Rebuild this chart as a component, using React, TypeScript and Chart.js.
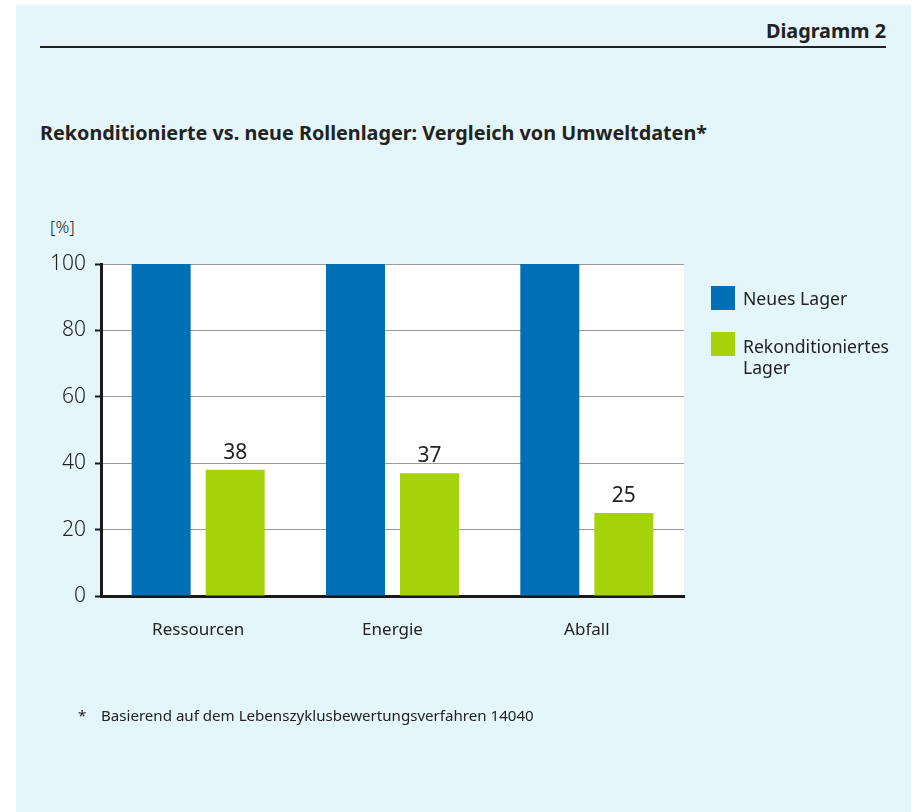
import React, { useEffect, useRef } from 'react';
import { Chart, registerables } from 'chart.js';

Chart.register(...registerables);

const categories = ['Ressourcen', 'Energie', 'Abfall'];
const neuesLager = [100, 100, 100];
const rekonditioniertesLager = [38, 37, 25];
const seriesLabels = ['Neues Lager', 'Rekonditioniertes Lager'];
const yMin = 0;
const yMax = 100;
const yStep = 20;

const FONT = '"Noto Sans", "DejaVu Sans", sans-serif';
const TEXT = '#222222';
const BLUE = '#006fb5';
const GREEN = '#a6d20b';
const BG = '#e4f6f9';

const plotBackground = {
  id: 'plotBackground',
  beforeDraw(chart: any) {
    const { ctx, chartArea } = chart;
    ctx.save();
    ctx.fillStyle = '#ffffff';
    ctx.fillRect(chartArea.left, chartArea.top, chartArea.right - chartArea.left, chartArea.bottom - chartArea.top);
    ctx.restore();
  },
};

const valueLabels = {
  id: 'valueLabels',
  afterDatasetsDraw(chart: any) {
    const { ctx } = chart;
    const meta = chart.getDatasetMeta(1);
    const data = chart.data.datasets[1].data;
    ctx.save();
    ctx.font = `21px ${FONT}`;
    ctx.fillStyle = TEXT;
    ctx.textAlign = 'center';
    ctx.textBaseline = 'alphabetic';
    meta.data.forEach((bar: any, i: number) => {
      ctx.fillText(String(data[i]), bar.x, bar.y - 11);
    });
    ctx.restore();
  },
};

export default function App() {
  const canvasRef = useRef<HTMLCanvasElement | null>(null);

  useEffect(() => {
    if (!canvasRef.current) return;
    const chart = new Chart(canvasRef.current, {
      type: 'bar',
      data: {
        labels: categories,
        datasets: [
          { label: seriesLabels[0], data: neuesLager, backgroundColor: BLUE, borderWidth: 0 },
          { label: seriesLabels[1], data: rekonditioniertesLager, backgroundColor: GREEN, borderWidth: 0 },
        ],
      },
      options: {
        animation: false,
        responsive: false,
        maintainAspectRatio: false,
        devicePixelRatio: 1,
        layout: { padding: { left: 0, right: 237, top: 264, bottom: 156 } },
        datasets: { bar: { categoryPercentage: 0.762, barPercentage: 0.797 } },
        plugins: { legend: { display: false }, tooltip: { enabled: false } },
        scales: {
          x: {
            grid: { display: false, drawTicks: false },
            border: { display: true, color: '#1a1a1a', width: 3 },
            ticks: { font: { family: FONT, size: 17 }, color: TEXT, padding: 24 },
            afterFit: (s: any) => { s.height = 60; },
          },
          y: {
            min: yMin,
            max: yMax,
            ticks: { stepSize: yStep, font: { family: FONT, size: 21, weight: '300' }, color: TEXT, padding: 9 },
            grid: { color: '#9a9a9a', lineWidth: 1, tickLength: 6, tickColor: '#1a1a1a', tickWidth: 2 },
            border: { color: '#1a1a1a', width: 3 },
            afterFit: (s: any) => { s.width = 101; },
          },
        },
      },
      plugins: [plotBackground, valueLabels],
    } as any);
    return () => chart.destroy();
  }, []);

  const abs = (o: React.CSSProperties): React.CSSProperties => ({ position: 'absolute', margin: 0, whiteSpace: 'nowrap', ...o });

  return (
    <div style={{ position: 'absolute', left: 0, top: 0, width: 921, height: 812, background: '#ffffff', overflow: 'hidden', fontFamily: FONT, color: TEXT }}>
      <div style={abs({ left: 16, top: 5, width: 895, height: 807, background: BG })} />
      <div style={abs({ right: 35, top: 20.5, fontSize: 19.8, lineHeight: '19.8px', fontWeight: 700 })}>Diagramm 2</div>
      <div style={abs({ left: 40, top: 46, width: 846, height: 1.5, background: '#222' })} />
      <div style={abs({ left: 40, top: 122.5, fontSize: 19.8, lineHeight: '19.8px', fontWeight: 700 })}>
        Rekonditionierte vs. neue Rollenlager: Vergleich von Umweltdaten*
      </div>
      <div style={abs({ left: 50, top: 218, fontSize: 17, lineHeight: '17px', fontWeight: 300 })}>[%]</div>
      <canvas ref={canvasRef} width={921} height={812} style={{ position: 'absolute', left: 0, top: 0, width: 921, height: 812 }} />
      <div style={abs({ left: 711, top: 286, width: 24, height: 24, background: BLUE })} />
      <div style={abs({ left: 743, top: 289.5, fontSize: 17.6, lineHeight: '17.6px' })}>Neues Lager</div>
      <div style={abs({ left: 711, top: 332, width: 24, height: 24, background: GREEN })} />
      <div style={abs({ left: 743, top: 336, fontSize: 17.6, lineHeight: '21px', whiteSpace: 'normal', width: 170 })}>
        Rekonditioniertes<br />Lager
      </div>
      <div style={abs({ left: 78, top: 708, fontSize: 15.1, lineHeight: '15px' })}>*</div>
      <div style={abs({ left: 101, top: 708, fontSize: 15.1, lineHeight: '15px' })}>
        Basierend auf dem Lebenszyklusbewertungsverfahren 14040
      </div>
    </div>
  );
}
